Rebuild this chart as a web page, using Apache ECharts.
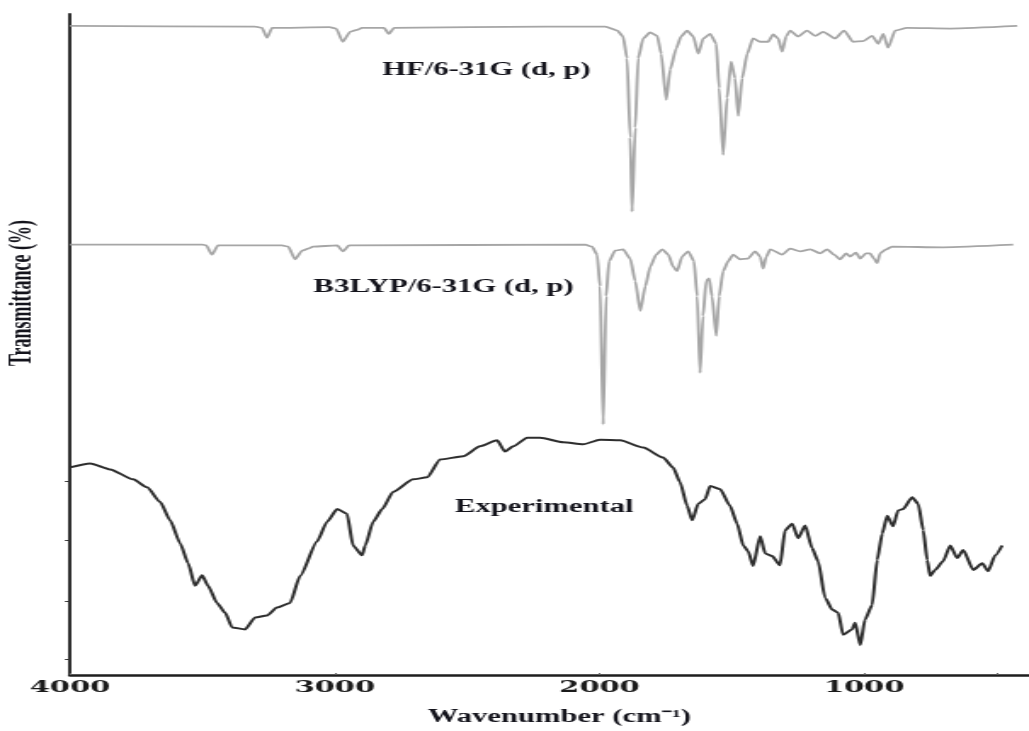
<!DOCTYPE html>
<html>
<head>
<meta charset="utf-8">
<script src="https://cdn.jsdelivr.net/npm/echarts@6/dist/echarts.min.js"></script>
<style>
  html, body { margin: 0; padding: 0; background: #fff; }
  #wrap { width: 1029px; height: 731px; overflow: hidden; }
  /* the figure is laid out narrow and widened horizontally, like the printed plate */
  #chart { width: 605px; height: 731px; transform: scaleX(1.7008); transform-origin: 0 0; }
</style>
</head>
<body>
<div id="wrap"><div id="chart"></div></div>
<script>
// Wavenumber axis ticks (cm^-1)
const wavenumberTicks = [4000, 3000, 2000, 1000, 500];
const wavenumberLabels = [4000, 3000, 2000, 1000];
// Transmittance ticks on the left axis (offset scale, no labels)
const transmittanceTicks = [2.4, 11.2, 20.4, 29.3];

const seriesNames = ['HF/6-31G (d, p)', 'B3LYP/6-31G (d, p)', 'Experimental'];
// [wavenumber, transmittance] where each name is written
const nameAnchors = [[2427, 91.5], [2589, 58.7], [2209, 25.3]];

// Computed spectrum, HF/6-31G(d,p) (offset trace)
const hfSpectrum = [
  [4000, 98.2], [3300, 98.1], [3275, 97.9], [3256, 96.4], [3237, 97.9],
  [3020, 98.0], [2995, 97.8], [2970, 95.8], [2942, 97.3], [2916, 97.6], [2897, 97.9],
  [2814, 97.9], [2796, 97.0], [2776, 97.9], [2200, 98.1],
  [1979, 98.1], [1933, 97.5], [1911, 96.6], [1896, 93.3], [1884, 81.3], [1877, 70.1],
  [1865, 82.8], [1854, 93.3], [1835, 96.3], [1809, 97.2], [1782, 96.7], [1767, 94.0],
  [1748, 87.0], [1733, 91.6], [1710, 94.8], [1692, 96.6], [1669, 97.5], [1646, 96.6],
  [1627, 94.0], [1608, 96.3], [1582, 97.0], [1559, 95.5], [1548, 88.8], [1533, 78.7],
  [1518, 87.3], [1503, 92.8], [1488, 90.3], [1476, 84.6], [1461, 90.3], [1442, 94.0],
  [1420, 96.3], [1393, 95.8], [1363, 95.8], [1344, 96.9], [1325, 96.3], [1310, 94.3],
  [1295, 96.6], [1280, 97.5], [1250, 96.6], [1216, 97.5], [1185, 96.7], [1155, 97.3],
  [1110, 96.3], [1076, 97.5], [1042, 95.8], [1004, 95.9], [970, 96.7], [947, 95.5],
  [928, 97.0], [910, 94.9], [883, 97.5], [838, 97.9], [675, 97.8], [422, 98.2]
];

// Computed spectrum, B3LYP/6-31G(d,p) (offset trace)
const b3lypSpectrum = [
  [4000, 65.1], [3500, 65.1], [3486, 65.0], [3464, 63.6], [3441, 65.0],
  [3200, 65.0], [3176, 64.8], [3150, 62.9], [3123, 64.2], [3101, 64.5], [3082, 64.8],
  [2991, 65.0], [2969, 64.1], [2946, 65.0], [2054, 65.1],
  [2028, 64.8], [2009, 63.6], [1998, 58.8], [1986, 37.9], [1975, 57.3], [1964, 62.6],
  [1941, 64.2], [1911, 64.4], [1884, 63.0], [1865, 59.6], [1846, 55.1], [1827, 58.8],
  [1808, 61.8], [1786, 63.6], [1763, 64.4], [1740, 63.6], [1722, 61.8], [1707, 61.1],
  [1688, 63.3], [1665, 64.1], [1643, 62.6], [1631, 57.3], [1620, 45.7], [1609, 54.3],
  [1597, 59.6], [1586, 60.0], [1575, 57.3], [1559, 51.3], [1548, 57.3], [1533, 61.1],
  [1514, 62.6], [1495, 63.6], [1469, 62.9], [1439, 63.0], [1412, 64.1], [1393, 63.3],
  [1382, 61.5], [1370, 63.3], [1355, 64.4], [1310, 63.6], [1280, 64.5], [1242, 64.1],
  [1204, 64.4], [1167, 63.8], [1140, 64.4], [1114, 63.6], [1091, 62.9], [1068, 63.8],
  [1053, 63.3], [1031, 63.9], [1015, 63.0], [993, 63.8], [978, 63.8], [963, 63.0],
  [951, 62.3], [940, 63.8], [917, 64.4], [895, 64.8], [702, 64.7], [437, 65.1]
];

// Measured FT-IR spectrum (offset trace)
const experimentalSpectrum = [
  [4000, 31.4], [3924, 32.0], [3849, 31.1], [3762, 29.6], [3709, 28.4], [3660, 26.2],
  [3622, 23.4], [3584, 19.9], [3554, 16.9], [3528, 13.5], [3501, 15.1], [3479, 13.5],
  [3445, 10.9], [3414, 9.4], [3388, 7.2], [3339, 6.9], [3301, 8.7], [3256, 9.0],
  [3218, 10.2], [3169, 10.9], [3131, 15.0], [3067, 20.2], [3029, 23.2], [2991, 25.1],
  [2954, 24.4], [2931, 19.6], [2897, 18.1], [2885, 19.6], [2855, 23.2], [2821, 25.1],
  [2780, 27.7], [2704, 29.6], [2651, 29.9], [2602, 32.6], [2515, 33.1], [2451, 34.6],
  [2387, 35.5], [2357, 33.8], [2326, 34.6], [2273, 35.9], [2224, 35.9], [2137, 35.2],
  [2062, 34.9], [1998, 35.6], [1922, 35.5], [1835, 34.4], [1760, 32.9], [1722, 31.4],
  [1696, 29.2], [1669, 25.6], [1650, 23.4], [1627, 25.9], [1601, 26.6], [1582, 28.6],
  [1544, 28.1], [1507, 25.6], [1480, 22.9], [1457, 19.6], [1438, 18.7], [1420, 16.5],
  [1393, 21.0], [1374, 18.4], [1348, 18.0], [1318, 16.6], [1299, 21.9], [1272, 22.9],
  [1250, 20.7], [1223, 22.6], [1197, 19.2], [1174, 17.2], [1148, 11.7], [1121, 9.9],
  [1098, 9.4], [1080, 6.1], [1046, 6.9], [1034, 7.9], [1015, 4.5], [997, 8.4],
  [970, 10.6], [951, 17.4], [932, 21.4], [913, 24.1], [891, 22.5], [872, 24.9],
  [853, 25.1], [819, 26.9], [796, 25.9], [777, 21.9], [762, 17.4], [751, 15.0],
  [732, 15.9], [702, 17.2], [675, 19.6], [649, 17.7], [626, 18.9], [588, 15.9],
  [554, 16.9], [532, 15.7], [505, 18.1], [479, 19.6]
];

const serifBold = '"Liberation Serif", "Times New Roman", serif';

function nameMark(i) {
  return {
    symbol: 'circle',
    symbolSize: 0,
    silent: true,
    itemStyle: { color: 'transparent' },
    label: {
      show: true,
      position: 'inside',
      formatter: seriesNames[i],
      fontFamily: serifBold,
      fontWeight: 'bold',
      fontSize: 18,
      color: '#14141c'
    },
    data: [{ coord: nameAnchors[i] }]
  };
}

const chart = echarts.init(document.getElementById('chart'), null, { renderer: 'canvas' });

chart.setOption({
  backgroundColor: '#ffffff',
  animation: false,
  grid: { left: 41.2, right: 0.4, top: 14, bottom: 48 },
  xAxis: {
    type: 'value',
    inverse: true,
    min: 380,
    max: 4000,
    name: 'Wavenumber (cm⁻¹)',
    nameLocation: 'middle',
    nameGap: 33,
    nameTextStyle: {
      fontFamily: serifBold,
      fontWeight: 'bold',
      fontSize: 18,
      color: '#14141c',
      padding: [0, 0, 0, 12]
    },
    axisLine: { show: true, onZero: false, lineStyle: { color: '#1e1e1e', width: 2.5 } },
    axisTick: {
      show: true,
      inside: true,
      length: 2,
      customValues: wavenumberTicks,
      lineStyle: { color: '#666', width: 1 }
    },
    axisLabel: {
      show: true,
      customValues: wavenumberLabels,
      formatter: function (v) { return String(v); },
      margin: 4,
      fontFamily: '"DejaVu Serif", serif',
      fontWeight: 'bold',
      fontSize: 17,
      color: '#1a1a1a'
    },
    splitLine: { show: false }
  },
  yAxis: {
    type: 'value',
    min: 0,
    max: 100,
    axisLine: { show: true, onZero: false, lineStyle: { color: '#1a1a1a', width: 1.8 } },
    axisTick: {
      show: true,
      length: 3,
      customValues: transmittanceTicks,
      lineStyle: { color: '#333', width: 1 }
    },
    axisLabel: { show: false },
    splitLine: { show: false }
  },
  graphic: [{
    type: 'text',
    x: 13.5,
    y: 293,
    rotation: Math.PI / 2,
    silent: true,
    style: {
      text: 'Transmittance (%)',
      fontFamily: serifBold,
      fontWeight: 'bold',
      fontSize: 18,
      fill: '#14141c',
      align: 'center',
      verticalAlign: 'middle'
    }
  }],
  series: [
    {
      name: seriesNames[0],
      type: 'line',
      data: hfSpectrum,
      showSymbol: false,
      smooth: 0.2,
      smoothMonotone: 'x',
      lineStyle: { color: '#a6a6a6', width: 1.8 },
      markPoint: nameMark(0)
    },
    {
      name: seriesNames[1],
      type: 'line',
      data: b3lypSpectrum,
      showSymbol: false,
      smooth: 0.2,
      smoothMonotone: 'x',
      lineStyle: { color: '#a6a6a6', width: 1.8 },
      markPoint: nameMark(1)
    },
    {
      name: seriesNames[2],
      type: 'line',
      data: experimentalSpectrum,
      showSymbol: false,
      smooth: 0.2,
      smoothMonotone: 'x',
      lineStyle: { color: '#2e2e2e', width: 2 },
      markPoint: nameMark(2)
    }
  ]
});
</script>
</body>
</html>
